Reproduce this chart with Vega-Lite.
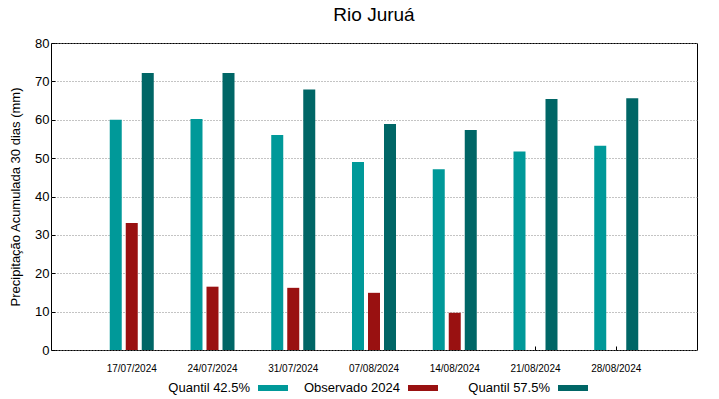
{
  "$schema": "https://vega.github.io/schema/vega-lite/v6.json",
  "width": 646,
  "height": 307,
  "autosize": {"type": "none"},
  "padding": {"left": 51, "top": 43, "right": 22, "bottom": 49},
  "background": "white",
  "title": {"text": "Rio Juruá", "font": "Liberation Sans", "fontSize": 19, "fontWeight": "normal", "color": "black", "offset": 12, "anchor": "middle"},
  "config": {
    "font": "Liberation Sans",
    "view": {"stroke": "black", "strokeWidth": 1}
  },
  "data": {"values": [
    {"date": "17/07/2024", "serie": "Quantil 42.5%", "value": 60.0},
    {"date": "17/07/2024", "serie": "Observado 2024", "value": 33.1},
    {"date": "17/07/2024", "serie": "Quantil 57.5%", "value": 72.2},
    {"date": "24/07/2024", "serie": "Quantil 42.5%", "value": 60.2},
    {"date": "24/07/2024", "serie": "Observado 2024", "value": 16.5},
    {"date": "24/07/2024", "serie": "Quantil 57.5%", "value": 72.2},
    {"date": "31/07/2024", "serie": "Quantil 42.5%", "value": 56.0},
    {"date": "31/07/2024", "serie": "Observado 2024", "value": 16.2},
    {"date": "31/07/2024", "serie": "Quantil 57.5%", "value": 67.9},
    {"date": "07/08/2024", "serie": "Quantil 42.5%", "value": 49.0},
    {"date": "07/08/2024", "serie": "Observado 2024", "value": 14.9},
    {"date": "07/08/2024", "serie": "Quantil 57.5%", "value": 58.9},
    {"date": "14/08/2024", "serie": "Quantil 42.5%", "value": 47.1},
    {"date": "14/08/2024", "serie": "Observado 2024", "value": 9.7},
    {"date": "14/08/2024", "serie": "Quantil 57.5%", "value": 57.3},
    {"date": "21/08/2024", "serie": "Quantil 42.5%", "value": 51.7},
    {"date": "21/08/2024", "serie": "Quantil 57.5%", "value": 65.4},
    {"date": "28/08/2024", "serie": "Quantil 42.5%", "value": 53.2},
    {"date": "28/08/2024", "serie": "Quantil 57.5%", "value": 65.6}
  ]},
  "mark": {"type": "bar"},
  "encoding": {
    "x": {
      "field": "date", "type": "nominal", "sort": null,
      "scale": {"paddingInner": 0.455, "paddingOuter": 0.7275},
      "axis": {"title": null, "labelAngle": 0, "labelFontSize": 10, "labelColor": "black", "labelPadding": 17, "tickSize": -4, "tickColor": "black", "domain": false}
    },
    "xOffset": {
      "field": "serie", "type": "nominal",
      "sort": ["Quantil 42.5%", "Observado 2024", "Quantil 57.5%"],
      "scale": {"paddingInner": 0.25, "paddingOuter": 0}
    },
    "y": {
      "field": "value", "type": "quantitative",
      "scale": {"domain": [0, 80], "nice": false},
      "axis": {
        "title": "Precipitação Acumulada 30 dias (mm)", "titleFontSize": 13, "titleFontWeight": "normal", "titleColor": "black", "titlePadding": 12,
        "values": [0, 10, 20, 30, 40, 50, 60, 70, 80],
        "labelFontSize": 13, "labelColor": "black", "labelPadding": 6,
        "tickSize": -4, "tickColor": "black", "domain": false,
        "grid": true, "gridDash": [1, 2], "gridColor": "#888888", "gridWidth": 1
      }
    },
    "color": {
      "field": "serie", "type": "nominal",
      "scale": {"domain": ["Quantil 42.5%", "Observado 2024", "Quantil 57.5%"], "range": ["#009999", "#991111", "#006666"]},
      "legend": {
        "title": null, "orient": "none", "legendX": 207, "legendY": 330, "direction": "horizontal",
        "labelFontSize": 13, "labelColor": "black", "labelAlign": "right", "labelOffset": -38,
        "symbolType": "M-1,-0.2H1V0.2H-1Z", "symbolSize": 900, "symbolStrokeWidth": 0,
        "gridAlign": "all", "columnPadding": 15
      }
    }
  }
}
